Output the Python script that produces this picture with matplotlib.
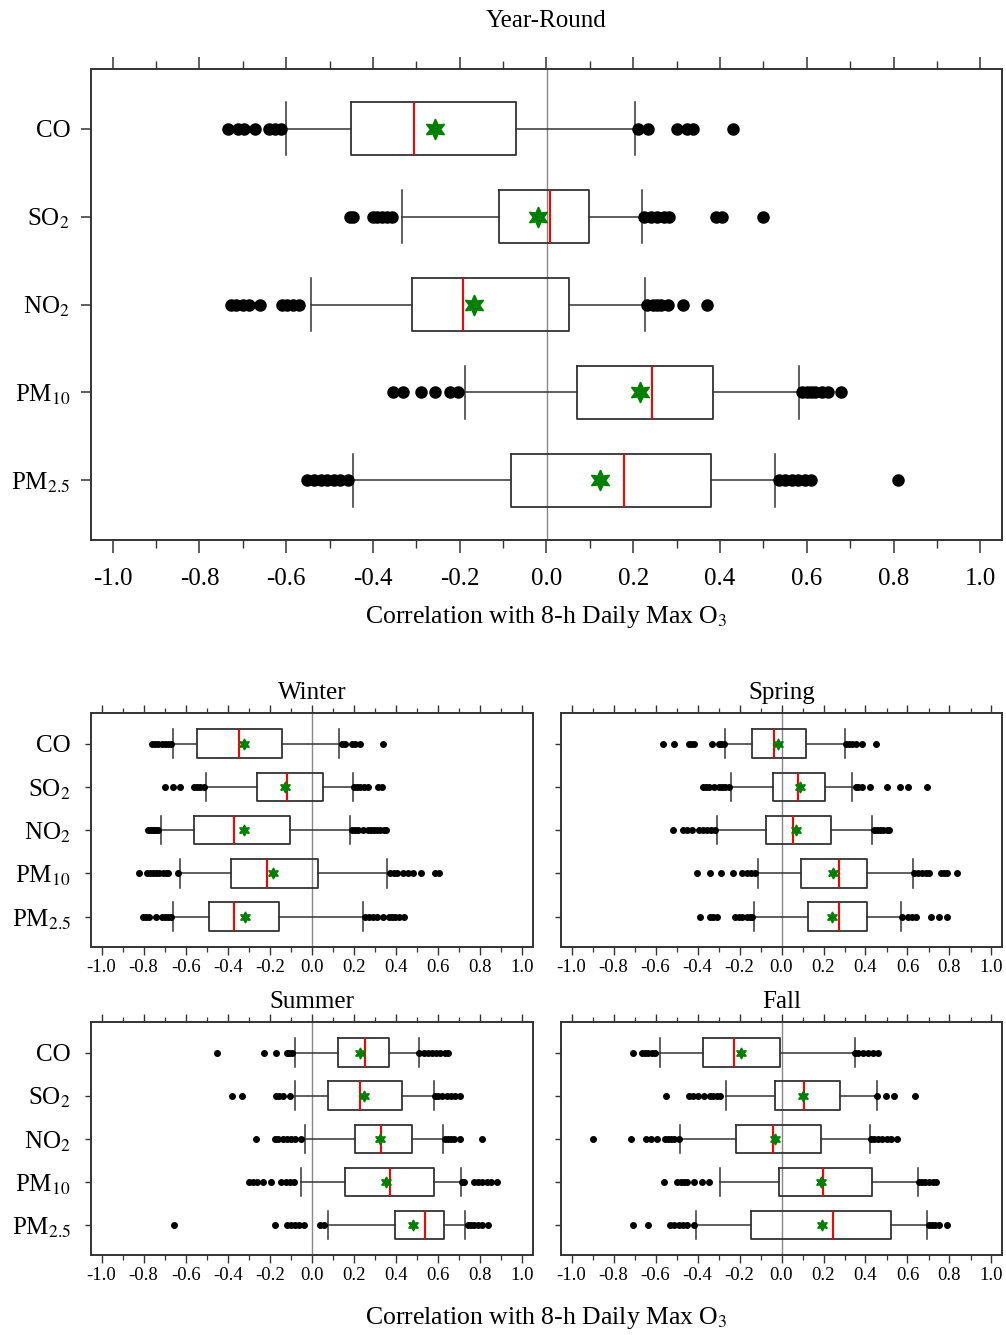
import numpy as np
import matplotlib
matplotlib.use('Agg')
import matplotlib.pyplot as plt
from matplotlib.ticker import MultipleLocator

plt.rcParams['font.family'] = ['Liberation Serif', 'DejaVu Serif']
plt.rcParams['mathtext.fontset'] = 'stix'

pollutants = ['CO', 'SO$_2$', 'NO$_2$', 'PM$_{10}$', 'PM$_{2.5}$']
tick_labels = ['-1.0', '-0.8', '-0.6', '-0.4', '-0.2', '0.0', '0.2', '0.4', '0.6', '0.8', '1.0']

# Year-round statistics (CO, SO2, NO2, PM10, PM2.5)
yr_whislo = [-0.600, -0.334, -0.544, -0.189, -0.447]
yr_q1 = [-0.450, -0.110, -0.309, 0.071, -0.082]
yr_med = [-0.305, 0.007, -0.193, 0.244, 0.178]
yr_mean = [-0.256, -0.019, -0.166, 0.215, 0.123]
yr_q3 = [-0.071, 0.098, 0.052, 0.383, 0.380]
yr_whishi = [0.205, 0.220, 0.227, 0.581, 0.527]
yr_fliers = [
    [-0.735, -0.71, -0.698, -0.672, -0.64, -0.625, -0.612, 0.212, 0.235, 0.30, 0.325, 0.338, 0.43],
    [-0.453, -0.445, -0.401, -0.39, -0.379, -0.368, -0.357, 0.225, 0.24, 0.255, 0.27, 0.282, 0.39, 0.405, 0.50],
    [-0.728, -0.715, -0.70, -0.685, -0.661, -0.61, -0.598, -0.585, -0.57, 0.232, 0.245, 0.255, 0.265, 0.28, 0.315, 0.371],
    [-0.354, -0.331, -0.29, -0.257, -0.223, -0.205, 0.59, 0.60, 0.61, 0.62, 0.635, 0.65, 0.678],
    [-0.553, -0.535, -0.52, -0.505, -0.49, -0.475, -0.458, 0.537, 0.55, 0.565, 0.58, 0.595, 0.61, 0.81],
]

# Winter
win_whislo = [-0.661, -0.505, -0.716, -0.628, -0.661]
win_q1 = [-0.546, -0.262, -0.562, -0.387, -0.489]
win_med = [-0.349, -0.120, -0.370, -0.213, -0.370]
win_mean = [-0.325, -0.128, -0.325, -0.185, -0.316]
win_q3 = [-0.144, 0.051, -0.103, 0.028, -0.156]
win_whishi = [0.130, 0.195, 0.180, 0.356, 0.244]
win_fliers = [
    [-0.759, -0.745, -0.73, -0.715, -0.70, -0.685, -0.672, 0.143, 0.155, 0.19, 0.205, 0.23, 0.339],
    [-0.697, -0.661, -0.628, -0.562, -0.545, -0.53, -0.513, 0.20, 0.215, 0.23, 0.245, 0.266, 0.315, 0.331],
    [-0.779, -0.77, -0.76, -0.75, -0.74, -0.73, 0.189, 0.205, 0.22, 0.241, 0.266, 0.28, 0.295, 0.31, 0.325, 0.34, 0.352],
    [-0.82, -0.784, -0.77, -0.755, -0.74, -0.725, -0.71, -0.695, -0.682, -0.636, 0.372, 0.39, 0.405, 0.434, 0.455, 0.479, 0.52, 0.585, 0.605],
    [-0.805, -0.79, -0.775, -0.743, -0.713, -0.70, -0.685, -0.669, 0.254, 0.27, 0.29, 0.31, 0.339, 0.364, 0.38, 0.395, 0.415, 0.438],
]

# Spring
spr_whislo = [-0.267, -0.239, -0.307, -0.113, -0.132]
spr_q1 = [-0.140, -0.040, -0.073, 0.091, 0.127]
spr_med = [-0.037, 0.080, 0.056, 0.274, 0.274]
spr_mean = [-0.018, 0.086, 0.067, 0.247, 0.242]
spr_q3 = [0.115, 0.207, 0.234, 0.409, 0.406]
spr_whishi = [0.301, 0.337, 0.433, 0.624, 0.568]
spr_fliers = [
    [-0.565, -0.514, -0.442, -0.43, -0.418, -0.331, -0.299, -0.287, -0.275, 0.305, 0.32, 0.337, 0.353, 0.385, 0.449],
    [-0.375, -0.36, -0.345, -0.323, -0.299, -0.285, -0.27, -0.251, 0.353, 0.365, 0.385, 0.42, 0.504, 0.565, 0.60, 0.695],
    [-0.517, -0.469, -0.45, -0.426, -0.395, -0.375, -0.355, -0.335, -0.315, 0.44, 0.455, 0.47, 0.485, 0.50, 0.512],
    [-0.402, -0.342, -0.286, -0.231, -0.188, -0.165, -0.145, -0.124, 0.632, 0.65, 0.67, 0.69, 0.703, 0.759, 0.775, 0.788, 0.834],
    [-0.387, -0.342, -0.325, -0.307, -0.22, -0.204, -0.188, -0.164, -0.152, -0.14, 0.576, 0.60, 0.62, 0.64, 0.711, 0.748, 0.788],
]

# Summer
sum_whislo = [-0.079, -0.079, -0.035, -0.054, 0.074]
sum_q1 = [0.124, 0.074, 0.204, 0.157, 0.394]
sum_med = [0.250, 0.226, 0.329, 0.369, 0.535]
sum_mean = [0.229, 0.245, 0.321, 0.353, 0.481]
sum_q3 = [0.366, 0.427, 0.473, 0.582, 0.626]
sum_whishi = [0.506, 0.580, 0.624, 0.708, 0.728]
sum_fliers = [
    [-0.45, -0.227, -0.17, -0.12, -0.108, -0.096, 0.51, 0.53, 0.55, 0.57, 0.59, 0.61, 0.63, 0.646],
    [-0.381, -0.334, -0.17, -0.155, -0.14, -0.104, 0.585, 0.60, 0.62, 0.64, 0.66, 0.68, 0.703],
    [-0.264, -0.178, -0.16, -0.14, -0.12, -0.10, -0.08, -0.054, 0.63, 0.645, 0.66, 0.675, 0.703, 0.806],
    [-0.301, -0.28, -0.26, -0.235, -0.194, -0.145, -0.125, -0.105, -0.084, 0.712, 0.72, 0.769, 0.79, 0.81, 0.83, 0.85, 0.88],
    [-0.657, -0.175, -0.12, -0.10, -0.08, -0.06, -0.038, 0.036, 0.056, 0.74, 0.755, 0.77, 0.79, 0.81, 0.838],
]

# Fall
fal_whislo = [-0.578, -0.263, -0.482, -0.294, -0.406]
fal_q1 = [-0.374, -0.032, -0.216, -0.011, -0.145]
fal_med = [-0.228, 0.107, -0.040, 0.199, 0.245]
fal_mean = [-0.191, 0.102, -0.029, 0.189, 0.191]
fal_q3 = [-0.008, 0.278, 0.186, 0.433, 0.523]
fal_whishi = [0.348, 0.453, 0.422, 0.652, 0.692]
fal_fliers = [
    [-0.705, -0.665, -0.65, -0.635, -0.618, -0.601, 0.35, 0.365, 0.39, 0.41, 0.435, 0.46],
    [-0.549, -0.442, -0.42, -0.398, -0.371, -0.342, -0.325, -0.308, -0.291, 0.457, 0.496, 0.536, 0.635],
    [-0.899, -0.718, -0.644, -0.62, -0.593, -0.554, -0.54, -0.525, -0.51, -0.49, 0.425, 0.44, 0.46, 0.48, 0.50, 0.52, 0.552],
    [-0.558, -0.498, -0.48, -0.465, -0.45, -0.418, -0.379, -0.347, 0.655, 0.67, 0.685, 0.70, 0.72, 0.738],
    [-0.708, -0.638, -0.53, -0.51, -0.49, -0.47, -0.45, -0.418, 0.70, 0.715, 0.73, 0.751, 0.788],
]


def make_stats(whislo, q1, med, mean, q3, whishi, fliers):
    # Build the dicts that ax.bxp wants
    stats = []
    for i in range(len(med)):
        stats.append({'whislo': whislo[i], 'q1': q1[i], 'med': med[i], 'mean': mean[i],
                      'q3': q3[i], 'whishi': whishi[i], 'fliers': np.array(fliers[i])})
    return stats


def draw_panel(ax, stats, title, big, show_ylabels=True):
    edge = '#333333'
    width = 0.6 if big else 0.66
    ax.axvline(0, color='#888888', lw=1.0, zorder=0)
    ax.bxp(stats, positions=range(1, 6), orientation='horizontal', widths=width,
           capwidths=width, showmeans=True,
           boxprops=dict(color=edge, lw=1.3),
           whiskerprops=dict(color=edge, lw=1.1),
           capprops=dict(color=edge, lw=1.1),
           medianprops=dict(color='red', lw=1.5),
           meanprops=dict(marker=(6, 1, 0), markerfacecolor='green', markeredgecolor='green',
                          markersize=15 if big else 8),
           flierprops=dict(marker='o', markerfacecolor='black', markeredgecolor='black',
                           markersize=8 if big else 4))
    ax.set_xlim(-1.05, 1.05)
    if big:
        ax.set_ylim(5.68, 0.32)
    else:
        ax.set_ylim(5.70, 0.29)
    ax.set_yticks(range(1, 6))
    ax.set_yticklabels(pollutants if show_ylabels else [])
    ax.xaxis.set_major_locator(MultipleLocator(0.2))
    ax.xaxis.set_minor_locator(MultipleLocator(0.1))
    ax.set_xticks(np.arange(-1.0, 1.01, 0.2))
    ax.set_xticklabels(tick_labels)
    for s in ax.spines.values():
        s.set_color(edge)
        s.set_linewidth(1.4)
    if big:
        ax.tick_params(axis='x', which='major', direction='out', length=9, width=1.1,
                       top=True, labelsize=18, pad=11, colors=edge, labelcolor='black')
        ax.tick_params(axis='x', which='minor', direction='out', length=5.5, width=1.0,
                       top=True, colors=edge)
        ax.tick_params(axis='y', direction='out', length=7, width=1.1, labelsize=18,
                       pad=8, colors=edge, labelcolor='black')
        ax.set_title(title, fontsize=18, pad=30)
    else:
        ax.tick_params(axis='x', which='major', direction='out', length=6, width=1.0,
                       top=True, labelsize=13.5, pad=3, colors=edge, labelcolor='black')
        ax.tick_params(axis='x', which='minor', direction='out', length=3.5, width=0.9,
                       top=True, colors=edge)
        ax.tick_params(axis='y', direction='out', length=4.5, width=1.0, labelsize=18,
                       pad=10, colors=edge, labelcolor='black')
        ax.set_title(title, fontsize=18, pad=10)


W, H = 1006, 1335
fig = plt.figure(figsize=(W / 100, H / 100), dpi=100)

ax_yr = fig.add_axes([91 / W, 1 - 540 / H, 911 / W, 471 / H])
ax_win = fig.add_axes([91 / W, 1 - 947 / H, 442 / W, 234 / H])
ax_spr = fig.add_axes([561 / W, 1 - 947 / H, 441 / W, 234 / H])
ax_sum = fig.add_axes([91 / W, 1 - 1255 / H, 442 / W, 233 / H])
ax_fal = fig.add_axes([561 / W, 1 - 1255 / H, 441 / W, 233 / H])

draw_panel(ax_yr, make_stats(yr_whislo, yr_q1, yr_med, yr_mean, yr_q3, yr_whishi, yr_fliers),
           'Year-Round', True)
draw_panel(ax_win, make_stats(win_whislo, win_q1, win_med, win_mean, win_q3, win_whishi, win_fliers),
           'Winter', False)
draw_panel(ax_spr, make_stats(spr_whislo, spr_q1, spr_med, spr_mean, spr_q3, spr_whishi, spr_fliers),
           'Spring', False, show_ylabels=False)
draw_panel(ax_sum, make_stats(sum_whislo, sum_q1, sum_med, sum_mean, sum_q3, sum_whishi, sum_fliers),
           'Summer', False)
draw_panel(ax_fal, make_stats(fal_whislo, fal_q1, fal_med, fal_mean, fal_q3, fal_whishi, fal_fliers),
           'Fall', False, show_ylabels=False)

ax_yr.set_xlabel('Correlation with 8-h Daily Max O$_3$', fontsize=18.5, labelpad=10)
fig.text(546 / W, 1 - 1318 / H, 'Correlation with 8-h Daily Max O$_3$', fontsize=18.5,
         ha='center', va='center')

fig.savefig('out.png', dpi=100)
